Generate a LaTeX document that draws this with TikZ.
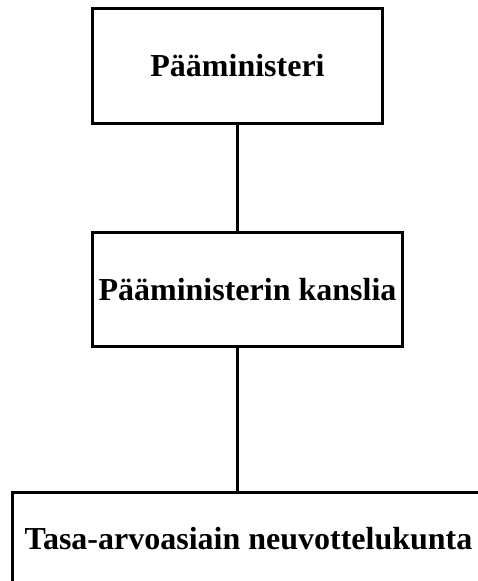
\documentclass[tikz,border=0pt]{standalone}
\usepackage{fontspec}
\setmainfont{Liberation Serif}
\usetikzlibrary{positioning}

\begin{document}
\begin{tikzpicture}[x=1pt,y=1pt,
		box/.style={draw,rectangle,line width=3pt,inner sep=0pt,
			font=\bfseries\fontsize{32}{36}\selectfont}]
		\clip (0,0) rectangle (478,581);
		\node[box,minimum width=290pt,minimum height=115pt] (pm) at (237.5,515) {Pääministeri};
		\node[box,minimum width=310pt,minimum height=114pt] (pmk) at (247.5,291.5) {Pääministerin kanslia};
		\node[box,minimum width=473pt,minimum height=120pt,text depth=30pt] (tane) at (248.5,28) {Tasa-arvoasiain neuvottelukunta};
		\path[line width=2.2pt]
		(pm.south) edge (pm.south |- pmk.north)
		(pm.south |- pmk.south) edge (pm.south |- tane.north);
	\end{tikzpicture}
\end{document}
